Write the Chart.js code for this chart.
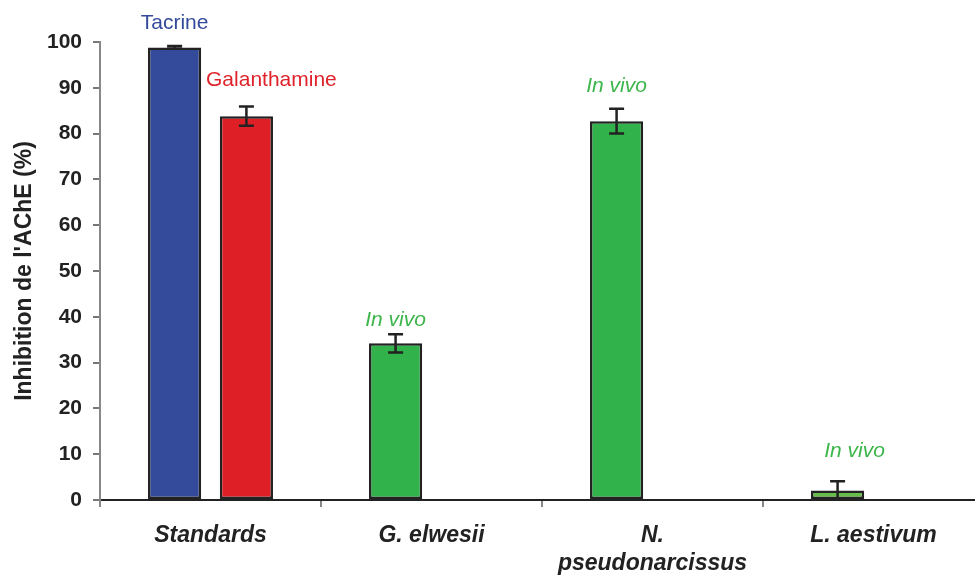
<!DOCTYPE html>
<html>
<head>
<meta charset="utf-8">
<script src="https://cdn.jsdelivr.net/npm/chart.js@4"></script>
<style>
    body { margin: 0; background: #fff; overflow: hidden; }
    canvas { display: block; }
</style>
</head>
<body>
<!-- canvas is a bit wider than the window: the last category runs past the right edge -->
<canvas id="barChart" width="984" height="576"></canvas>
<script>
// Data
const categories = ['Standards', 'G. elwesii', ['N.', 'pseudonarcissus'], 'L. aestivum'];
const mainValues = [98.8, 34.2, 82.7, 2.1];
const mainErrors = [0.3, 2.0, 2.7, 2.0];
const secondValues = [83.8, null, null, null];
const secondErrors = [2.1, null, null, null];
const yTicks = [0, 10, 20, 30, 40, 50, 60, 70, 80, 90, 100];

const mainColors = ['#344a9b', '#32b24b', '#32b24b', '#66bd4a'];
const fontFamily = '"Liberation Sans", Arial, sans-serif';

// Text labels placed above error bars (offsets in px)
const barLabels = [
    { ds: 0, i: 0, text: 'Tacrine', color: '#344a9b', italic: false, dx: 0, dy: -17 },
    { ds: 1, i: 0, text: 'Galanthamine', color: '#e0222a', italic: false, dx: 25, dy: -21 },
    { ds: 0, i: 1, text: 'In vivo', color: '#3cb54a', italic: true, dx: 0, dy: -8 },
    { ds: 0, i: 2, text: 'In vivo', color: '#3cb54a', italic: true, dx: 0, dy: -17 },
    { ds: 0, i: 3, text: 'In vivo', color: '#3cb54a', italic: true, dx: 17, dy: -24 }
];

const errorBarPlugin = {
    id: 'errorBars',
    afterDatasetsDraw(chart) {
        const ctx = chart.ctx;
        const y = chart.scales.y;
        const errs = [mainErrors, secondErrors];
        ctx.save();
        ctx.strokeStyle = '#222';
        ctx.lineWidth = 2.5;
        chart.data.datasets.forEach((ds, d) => {
            chart.getDatasetMeta(d).data.forEach((bar, i) => {
                const v = ds.data[i];
                const e = errs[d][i];
                if (v == null || e == null) return;
                const top = y.getPixelForValue(v + e);
                const bot = y.getPixelForValue(Math.max(v - e, 0));
                ctx.beginPath();
                ctx.moveTo(bar.x, top); ctx.lineTo(bar.x, bot);
                ctx.moveTo(bar.x - 7.5, top); ctx.lineTo(bar.x + 7.5, top);
                if (v - e > 0) { ctx.moveTo(bar.x - 7.5, bot); ctx.lineTo(bar.x + 7.5, bot); }
                ctx.stroke();
            });
        });
        // labels
        ctx.textAlign = 'center';
        ctx.textBaseline = 'alphabetic';
        barLabels.forEach(l => {
            const bar = chart.getDatasetMeta(l.ds).data[l.i];
            const v = chart.data.datasets[l.ds].data[l.i];
            const e = errs[l.ds][l.i];
            const top = y.getPixelForValue(v + e);
            ctx.font = (l.italic ? 'italic ' : '') + '21px ' + fontFamily;
            ctx.fillStyle = l.color;
            ctx.fillText(l.text, bar.x + l.dx, top + l.dy);
        });
        ctx.restore();
    }
};

const barCtx = document.getElementById('barChart').getContext('2d');
new Chart(barCtx, {
    type: 'bar',
    data: {
        labels: categories,
        datasets: [{
            label: 'main',
            data: mainValues,
            backgroundColor: mainColors,
            borderColor: '#222',
            borderWidth: 2.5,
            borderSkipped: false,
            categoryPercentage: 0.65,
            barPercentage: 0.74
        }, {
            label: 'Galanthamine',
            data: secondValues,
            backgroundColor: '#de1f26',
            borderColor: '#222',
            borderWidth: 2.5,
            borderSkipped: false,
            categoryPercentage: 0.65,
            barPercentage: 0.74
        }]
    },
    options: {
        responsive: false,
        animation: false,
        layout: { padding: { top: 42, right: 0, bottom: 0, left: 0 } },
        plugins: {
            legend: { display: false },
            tooltip: { enabled: false }
        },
        scales: {
            x: {
                grid: {
                    offset: true,
                    drawOnChartArea: false,
                    tickLength: 7,
                    color: '#888',
                    lineWidth: 2
                },
                border: { color: '#222', width: 2 },
                ticks: {
                    color: '#222',
                    padding: 15,
                    font: { family: fontFamily, size: 23, weight: 'bold', style: 'italic', lineHeight: 1.22 }
                },
                afterFit: scale => { scale.height = 76; }
            },
            y: {
                min: 0,
                max: 100,
                afterBuildTicks: scale => { scale.ticks = yTicks.map(v => ({ value: v })); },
                grid: {
                    drawOnChartArea: false,
                    tickLength: 7,
                    color: '#777',
                    lineWidth: 2
                },
                border: { color: '#888', width: 2 },
                ticks: {
                    color: '#222',
                    padding: 11,
                    font: { family: fontFamily, size: 21, weight: 'bold' }
                },
                title: {
                    display: true,
                    text: "Inhibition de l'AChE (%)",
                    color: '#222',
                    padding: { top: 11, bottom: 0 },
                    font: { family: fontFamily, size: 23, weight: 'bold' }
                },
                afterFit: scale => { scale.width = 100; }
            }
        }
    },
    plugins: [errorBarPlugin]
});
</script>
</body>
</html>
